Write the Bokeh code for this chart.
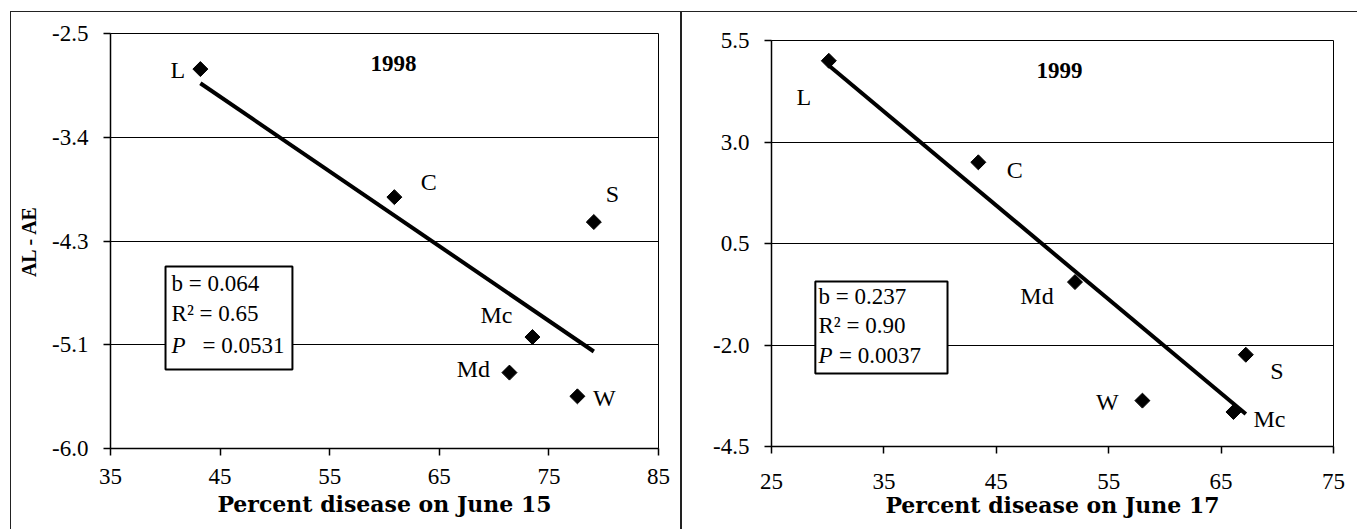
import numpy as np
from bokeh.plotting import figure
from bokeh.models import (ColumnDataSource, FixedTicker, BoxAnnotation, Label,
                          LabelSet, Range1d)
from bokeh.core.properties import value
from bokeh.layouts import row
from bokeh.embed import file_html
from bokeh.resources import INLINE

# ---------------- data ----------------
labels_1998 = ["L", "C", "S", "Mc", "Md", "W"]
x_1998 = [43.2, 60.9, 79.1, 73.5, 71.4, 77.6]
y_1998 = [-2.80, -3.88, -4.09, -5.06, -5.36, -5.56]

labels_1999 = ["L", "C", "Md", "S", "W", "Mc"]
x_1999 = [30.1, 43.4, 52.0, 67.2, 58.0, 66.1]
y_1999 = [5.0, 2.5, -0.45, -2.24, -3.37, -3.65]

x_ticks_1998 = [35, 45, 55, 65, 75, 85]
y_ticks_1998 = [-6.0, -5.125, -4.25, -3.375, -2.5]
y_tick_labels_1998 = ["-6.0", "-5.1", "-4.3", "-3.4", "-2.5"]

x_ticks_1999 = [25, 35, 45, 55, 65, 75]
y_ticks_1999 = [-4.5, -2.0, 0.5, 3.0, 5.5]
y_tick_labels_1999 = ["-4.5", "-2.0", "0.5", "3.0", "5.5"]

stats_1998 = ["b = 0.064", "R\u00b2 = 0.65", "= 0.0531"]
stats_1999 = ["b = 0.237", "R\u00b2 = 0.90", "= 0.0037"]

# label offsets (screen px, y up)
dx_1998 = [-22.5, 34.5, 18.5, -36, -36, 27]
dy_1998 = [-1, 15.5, 28.5, 22, 4, -1.5]
dx_1999 = [-25, 36.5, -38, 31, -35, 36]
dy_1999 = [-36.5, -7.5, -13.5, -16, -1.5, -7.5]

SERIF = "Liberation Serif"
BORDER = "1px solid #222"


def make_panel(year, xs, ys, names, dxs, dys, xt, yt, ytl, stats,
               width, height, mb, xtitle, ytitle, title_pos, box, text_x, eq_x,
               line_ys, x_standoff, title_standoff, styles):
    p = figure(width=width, height=height,
               x_range=Range1d(xt[0], xt[-1]), y_range=Range1d(yt[0], yt[-1]),
               output_backend="svg", toolbar_location=None,
               min_border_left=mb[0], min_border_right=mb[1],
               min_border_top=mb[2], min_border_bottom=mb[3])
    p.frame_align = False
    p.styles = styles
    p.background_fill_color = "white"
    p.border_fill_color = "white"
    p.outline_line_color = "black"
    p.outline_line_width = 1

    p.xaxis.ticker = FixedTicker(ticks=xt)
    p.yaxis.ticker = FixedTicker(ticks=yt)
    p.yaxis.major_label_overrides = {v: s for v, s in zip(yt, ytl)}
    p.xgrid.visible = False
    p.ygrid.ticker = FixedTicker(ticks=yt)
    p.ygrid.grid_line_color = "black"
    p.ygrid.grid_line_width = 1

    for ax in (p.xaxis[0], p.yaxis[0]):
        ax.major_tick_in = 0
        ax.major_tick_out = 7
        ax.major_tick_line_color = "black"
        ax.major_tick_line_width = 1.5
        ax.minor_tick_line_color = None
        ax.axis_line_color = "black"
        ax.axis_line_width = 1.5
        ax.major_label_text_font = SERIF
        ax.major_label_text_font_size = "23px"
        ax.major_label_text_color = "black"
    p.yaxis.major_label_standoff = 15
    p.xaxis.major_label_standoff = x_standoff

    p.xaxis.axis_label = xtitle
    p.xaxis.axis_label_text_font = "DejaVu Serif"
    p.xaxis.axis_label_text_font_style = "bold"
    p.xaxis.axis_label_text_font_size = "22px"
    p.xaxis.axis_label_text_color = "black"
    p.xaxis.axis_label_standoff = title_standoff
    if ytitle:
        p.yaxis.axis_label = ytitle
        p.yaxis.axis_label_text_font = SERIF
        p.yaxis.axis_label_text_font_style = "bold"
        p.yaxis.axis_label_text_font_size = "20px"
        p.yaxis.axis_label_text_color = "black"
        p.yaxis.axis_label_standoff = 9

    # trend line (least squares from the data)
    slope, intercept = np.polyfit(xs, ys, 1)
    tx = np.array([min(xs), max(xs)])
    p.line(tx, slope * tx + intercept, line_color="black", line_width=4)

    src = ColumnDataSource(dict(x=xs, y=ys, name=names, dx=dxs, dy=dys))
    p.scatter("x", "y", source=src, marker="square", size=10.6,
              angle=np.pi / 4, fill_color="black", line_color="black")
    p.add_layout(LabelSet(x="x", y="y", text="name", x_offset="dx", y_offset="dy",
                          source=src, text_align="center", text_baseline="middle",
                          text_font=value(SERIF), text_font_size="24px",
                          text_color="black"))

    # year title
    p.add_layout(Label(x=title_pos[0], y=title_pos[1], text=str(year),
                       text_align="center", text_baseline="middle",
                       text_font=SERIF, text_font_style="bold",
                       text_font_size="23px", text_color="black"))

    # statistics box
    p.add_layout(BoxAnnotation(left=box[0], right=box[1], top=box[2], bottom=box[3],
                               fill_color="white", fill_alpha=1.0,
                               line_color="black", line_width=2, line_alpha=1.0))
    p.add_layout(Label(x=text_x, y=line_ys[0], text=stats[0], text_align="left",
                       text_baseline="middle", text_font=SERIF,
                       text_font_size="23px", text_color="black"))
    p.add_layout(Label(x=text_x, y=line_ys[1], text=stats[1], text_align="left",
                       text_baseline="middle", text_font=SERIF,
                       text_font_size="23px", text_color="black"))
    p.add_layout(Label(x=text_x, y=line_ys[2], text="P", text_align="left",
                       text_baseline="middle", text_font=SERIF,
                       text_font_style="italic",
                       text_font_size="23px", text_color="black"))
    p.add_layout(Label(x=eq_x, y=line_ys[2], text=stats[2], text_align="left",
                       text_baseline="middle", text_font=SERIF,
                       text_font_size="23px", text_color="black"))
    return p


p1 = make_panel(1998, x_1998, y_1998, labels_1998, dx_1998, dy_1998,
                x_ticks_1998, y_ticks_1998, y_tick_labels_1998, stats_1998,
                width=671, height=518, mb=(99, 24, 21, 82),
                xtitle="Percent disease on June 15", ytitle="AL - AE",
                title_pos=(60.82, -2.749),
                box=(40.02, 51.6, -4.465, -5.334),
                text_x=40.57, eq_x=43.39,
                line_ys=(-4.608, -4.861, -5.131), x_standoff=13, title_standoff=4,
                styles={"margin-left": "10px", "margin-top": "11px",
                        "border-top": BORDER, "border-left": BORDER,
                        "border-right": BORDER})

p2 = make_panel(1999, x_1999, y_1999, labels_1999, dx_1999, dy_1999,
                x_ticks_1999, y_ticks_1999, y_tick_labels_1999, stats_1999,
                width=676, height=518, mb=(89, 25, 28, 84),
                xtitle="Percent disease on June 17", ytitle=None,
                title_pos=(50.62, 4.773),
                box=(28.9, 40.66, -0.436, -2.70),
                text_x=29.18, eq_x=31.0,
                line_ys=(-0.805, -1.52, -2.26), x_standoff=20, title_standoff=0,
                styles={"margin-top": "11px",
                        "border-top": BORDER, "border-left": BORDER})

layout = row(p1, p2)
open("out.html", "w").write(file_html(layout, INLINE))
